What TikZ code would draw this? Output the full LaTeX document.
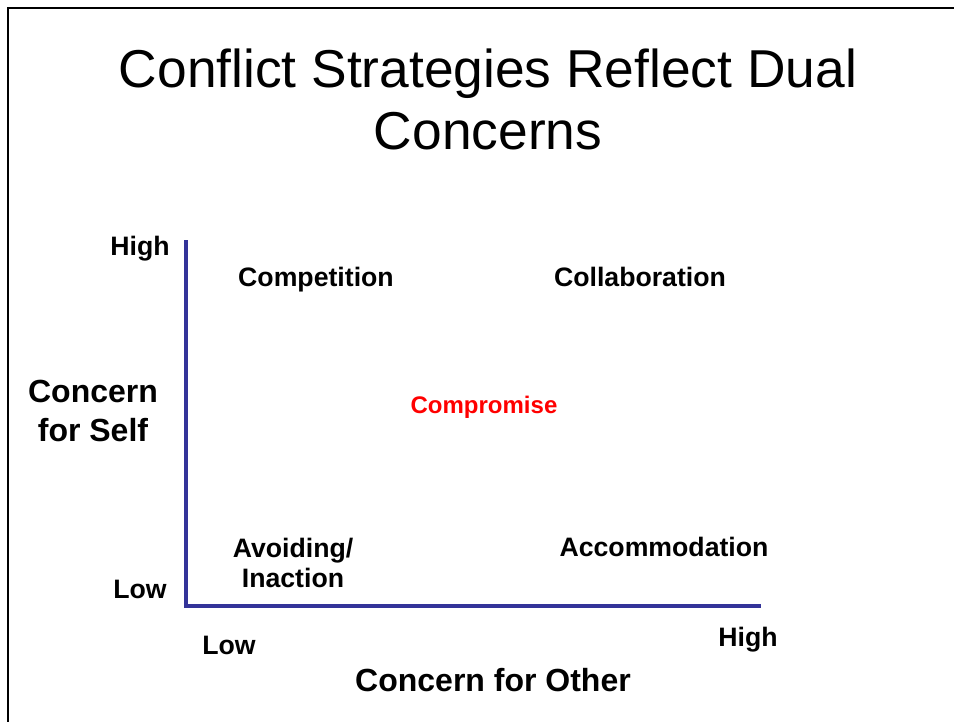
\documentclass[tikz,border=0pt]{standalone}
\usepackage{fontspec}
\setmainfont{Liberation Sans}
\definecolor{axisblue}{RGB}{51,51,153}
\tikzset{
  strat/.style={font=\fontsize{20}{23}\selectfont\bfseries, align=center, inner sep=0pt},
  axlabel/.style={font=\fontsize{24}{29}\selectfont\bfseries, align=center, inner sep=0pt},
}

\begin{document}
\begin{tikzpicture}[x=0.75pt, y=-0.75pt]
	\useasboundingbox (0,0) rectangle (954,722);
	% slide frame
	\coordinate (TL) at (8,8);
	\coordinate (TR) at (954,8);
	\coordinate (BL) at (8,722);
	\draw[line width=1.5pt] (TR) -- (TL) -- (BL);
	% title
	\node[font=\fontsize{40}{46.5}\selectfont, align=center, inner sep=0pt] (title) at (488,99) {Conflict Strategies Reflect Dual\\Concerns};
	% axes
	\coordinate (O) at (186,606);
	\coordinate (Ytop) at (186,240);
	\coordinate (Xend) at (761,606);
	\draw[axisblue, line width=2.4pt] (Ytop) -- (O) -- (Xend);
	\node[strat] (yhigh) at (140,249) {High};
	\node[strat] (ylow) at (140,589) {Low};
	\node[strat] (xlow) at (229,645) {Low};
	\node[strat] (xhigh) at (748,640) {High};
	\node[axlabel] (self) at (93,411) {Concern\\for Self};
	\node[axlabel] (other) at (493,680) {Concern for Other};
	% strategies
	\node[strat] (comp) at (316,280) {Competition};
	\node[strat] (coll) at (640,277) {Collaboration};
	\node[strat, text=red, font=\fontsize{18}{21}\selectfont\bfseries] (compr) at (484,407) {Compromise};
	\node[strat] (avoid) at (293,563) {Avoiding/\\Inaction};
	\node[strat] (accom) at (664,547) {Accommodation};
\end{tikzpicture}
\end{document}
